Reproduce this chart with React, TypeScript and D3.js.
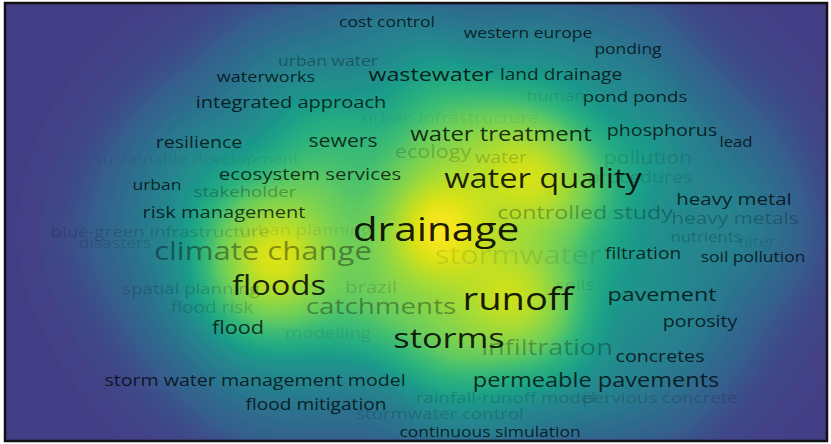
import React, { useMemo } from "react";
import * as d3 from "d3";

// Term map: co-occurrence keywords on drainage / stormwater research.
// Map coordinates are centred on the middle of the map (x right, y down).
const terms = [
  "cost control", "western europe", "ponding", "urban water", "waterworks",
  "wastewater", "land drainage", "human", "pond ponds", "integrated approach",
  "urban infrastructure", "resilience", "sewers", "water treatment", "phosphorus",
  "lead", "sustainable development", "ecology", "water", "pollution",
  "ecosystem services", "urban", "stakeholder", "water quality", "procedures",
  "heavy metal", "risk management", "controlled study", "heavy metals", "drainage",
  "blue-green infrastructure", "urban planning", "disasters", "climate change", "nutrients",
  "filter", "stormwater", "filtration", "soil pollution", "brazil",
  "spatial planning", "floods", "soils", "pavement", "catchments",
  "runoff", "flood risk", "flood", "modelling", "porosity",
  "storms", "infiltration", "concretes", "storm water management model", "permeable pavements",
  "rainfall-runoff model", "pervious concrete", "flood mitigation", "stormwater control", "continuous simulation",
];

const mapX = [
  -29, 112, 212, -88, -150,
  15, 145, 140, 219, -125,
  34, -217, -73, 85, 246,
  320, -219, 17, 85, 232,
  -106, -259, -171, 127, 224,
  318, -192, 169, 319, 20,
  -256, -111, -301, -153, 290,
  341, 102, 227, 337, -45,
  -225, -137, 159, 246, -35,
  102, -204, -178, -88, 284,
  33, 131, 244, -161, 180,
  90, 244, -100, 24, 74,
];

const mapY = [
  -199, -188, -172, -160, -144,
  -147, -147, -125, -125, -119,
  -104, -79, -80, -87, -91,
  -79, -62, -69, -64, -63,
  -47, -36, -30, -42, -44,
  -22, -9, -9, -3, 9,
  10, 8, 22, 30, 16,
  21, 35, 32, 36, 66,
  67, 65, 63, 73, 85,
  79, 86, 107, 111, 100,
  118, 126, 135, 159, 159,
  176, 176, 183, 192, 211,
];

// Occurrences drive label size.
const occurrences = [
  4, 4, 4, 4, 5,
  18, 7, 4, 6, 9,
  6, 8, 12, 20, 8,
  3, 4, 13, 8, 12,
  10, 4, 6, 62, 8,
  10, 9, 18, 11, 120,
  6, 6, 4, 53, 3,
  4, 51, 7, 4, 10,
  6, 62, 6, 18, 36,
  100, 7, 13, 6, 8,
  73, 33, 8, 8, 19,
  6, 6, 7, 6, 4,
];

// Total link strength drives the item density.
const linkStrength = [
  6, 5, 4, 5, 5,
  14, 7, 4, 5, 7,
  8, 5, 18, 18, 6,
  3, 4, 24, 22, 8,
  16, 4, 5, 70, 5,
  5, 7, 10, 5, 100,
  3, 28, 2, 58, 3,
  2, 10, 6, 3, 8,
  4, 40, 5, 8, 22,
  72, 4, 6, 6, 5,
  38, 12, 5, 5, 8,
  4, 3, 4, 5, 4,
];

// Label prominence (faded labels are overlapped ones).
const prominence = [
  0.75, 0.75, 0.75, 0.35, 0.75,
  0.8, 0.75, 0.12, 0.75, 0.75,
  0.07, 0.75, 0.75, 0.8, 0.75,
  0.75, 0.08, 0.2, 0.2, 0.15,
  0.75, 0.75, 0.3, 0.85, 0.14,
  0.75, 0.75, 0.3, 0.25, 0.9,
  0.18, 0.1, 0.15, 0.4, 0.22,
  0.12, 0.1, 0.75, 0.75, 0.16,
  0.2, 0.85, 0.12, 0.75, 0.35,
  0.88, 0.18, 0.75, 0.1, 0.75,
  0.85, 0.28, 0.75, 0.75, 0.75,
  0.18, 0.18, 0.75, 0.18, 0.75,
];

const W = 831;
const H = 444;
const FRAME = { x: 5, y: 3, w: 822, h: 438 };
const CELL = 3;
const SIGMA = 40;
const SIGMA_WIDE = 78;
const WIDE_SHARE = 0.16;
const T0 = 0.18;
const LEVELS = 80;
const STRETCH = 1.23;

// Relative density -> position along the colour ramp.
const rampDomain = [0, 0.012, 0.05, 0.12, 0.3, 0.5, 1];
const rampRange = [0, 0.03, 0.16, 0.28, 0.52, 0.72, 1];

export default function App() {
  const xScale = d3.scaleLinear().domain([-411, 411]).range([FRAME.x, FRAME.x + FRAME.w]);
  const yScale = d3.scaleLinear().domain([-219, 219]).range([FRAME.y, FRAME.y + FRAME.h]);
  const sizeScale = d3.scaleSqrt().domain([0, 120]).range([10, 33]);
  const ramp = d3.scaleLinear().domain(rampDomain).range(rampRange).clamp(true);
  const color = (v: number) => d3.interpolateViridis(T0 + (1 - T0) * v);

  const items = terms.map((t, i) => ({
    term: t,
    x: xScale(mapX[i]),
    y: yScale(mapY[i]),
    occ: occurrences[i],
    w: linkStrength[i],
    a: prominence[i],
  }));

  const { contours } = useMemo(() => {
    const nx = Math.ceil(FRAME.w / CELL);
    const ny = Math.ceil(FRAME.h / CELL);
    const raw = new Float64Array(nx * ny);
    const s2 = 2 * SIGMA * SIGMA;
    const w2 = 2 * SIGMA_WIDE * SIGMA_WIDE;
    let max = 0;
    for (let j = 0; j < ny; j++) {
      const py = FRAME.y + (j + 0.5) * CELL;
      for (let i = 0; i < nx; i++) {
        const px = FRAME.x + (i + 0.5) * CELL;
        let d = 0;
        for (const it of items) {
          const dx = px - it.x;
          const dy = py - it.y;
          const r2 = dx * dx + dy * dy;
          d += it.w * ((1 - WIDE_SHARE) * Math.exp(-r2 / s2) + WIDE_SHARE * Math.exp(-r2 / w2));
        }
        raw[j * nx + i] = d;
        if (d > max) max = d;
      }
    }
    const values = Array.from(raw, (d) => ramp(d / max));
    const contours = d3
      .contours()
      .size([nx, ny])
      .thresholds(d3.range(0, 1, 1 / LEVELS))(values);
    return { contours };
  }, []);

  const path = d3.geoPath();

  return (
    <svg
      width={W}
      height={H}
      style={{ position: "absolute", left: 0, top: 0, background: "#fff" }}
    >
      <defs>
        <clipPath id="frame-clip">
          <rect x={FRAME.x} y={FRAME.y} width={FRAME.w} height={FRAME.h} />
        </clipPath>
        <filter id="soft" x={0} y={0} width={W} height={H} filterUnits="userSpaceOnUse">
          <feGaussianBlur stdDeviation={2.5} />
        </filter>
      </defs>
      <g clipPath="url(#frame-clip)">
        <rect x={FRAME.x} y={FRAME.y} width={FRAME.w} height={FRAME.h} fill={color(0)} />
        <g filter="url(#soft)">
          <g transform={`translate(${FRAME.x},${FRAME.y}) scale(${CELL})`}>
            {contours.map((c, k) => (
              <path key={k} d={path(c) || ""} fill={color(c.value)} />
            ))}
          </g>
        </g>
        <g fontFamily="'Open Sans', sans-serif" textAnchor="middle">
          {items.map((it, i) => (
            <text
              key={i}
              transform={`translate(${it.x},${it.y}) scale(${STRETCH},1)`}
              dy="0.3em"
              fontSize={sizeScale(it.occ)}
              fill="#000"
              fillOpacity={it.a}
            >
              {it.term}
            </text>
          ))}
        </g>
      </g>
      <rect
        x={FRAME.x}
        y={FRAME.y}
        width={FRAME.w}
        height={FRAME.h}
        fill="none"
        stroke="#111"
        strokeWidth={2.5}
      />
    </svg>
  );
}
